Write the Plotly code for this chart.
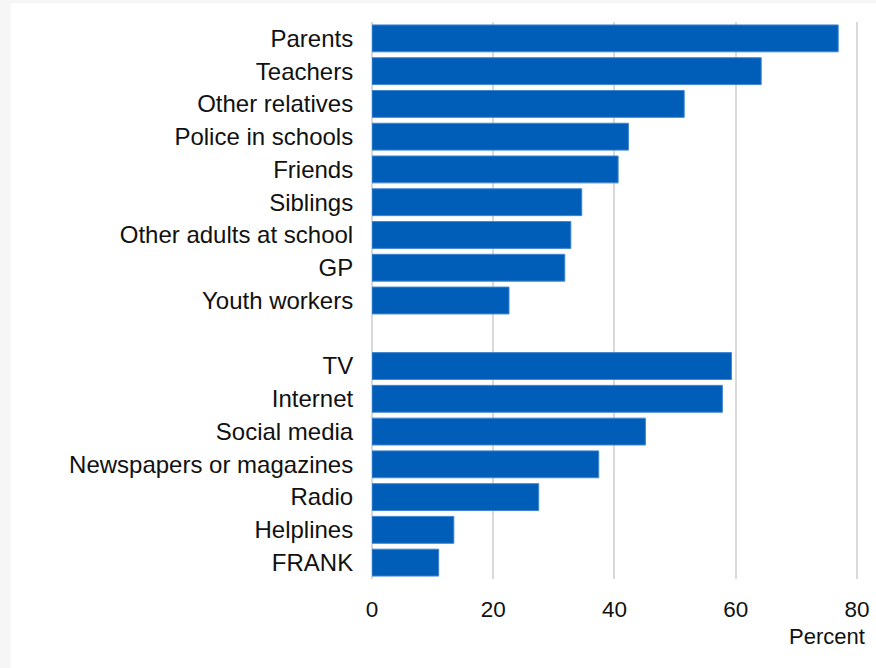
import plotly.graph_objects as go

# fuentes de información (arriba personas, abajo medios)
people = ['Parents', 'Teachers', 'Other relatives', 'Police in schools', 'Friends',
          'Siblings', 'Other adults at school', 'GP', 'Youth workers']
people_pct = [76.9, 64.2, 51.5, 42.3, 40.6, 34.6, 32.8, 31.8, 22.6]

media = ['TV', 'Internet', 'Social media', 'Newspapers or magazines', 'Radio',
         'Helplines', 'FRANK']
media_pct = [59.3, 57.8, 45.1, 37.4, 27.5, 13.5, 11.0]

x_ticks = [0, 20, 40, 60, 80]

# hueco vacío entre los dos grupos
cats = people + [' '] + media
vals = people_pct + [None] + media_pct

FONT = 'Liberation Sans, Arial, sans-serif'

fig = go.Figure()
fig.add_trace(go.Bar(
    y=cats, x=vals, orientation='h',
    marker=dict(color='#005EB8', line=dict(color='#3f86d2', width=1)),
    hoverinfo='x+y'
))

fig.update_layout(
    width=876, height=668,
    margin=dict(l=372, r=16, t=22, b=89),
    paper_bgcolor='#f6f6f6',
    plot_bgcolor='white',
    bargap=0.18,
    showlegend=False,
    font=dict(family=FONT, size=22.5, color='#111111'),
    shapes=[dict(type='rect', xref='paper', yref='paper',
                 x0=-0.74, x1=1.05, y0=-0.17, y1=1.033,
                 fillcolor='white', line=dict(width=0), layer='below')],
    annotations=[dict(text='Percent', xref='paper', yref='paper',
                      x=1.014, y=-0.104, xanchor='right', yanchor='middle',
                      showarrow=False, font=dict(family=FONT, size=22, color='#111111'))]
)

fig.update_xaxes(
    range=[0, 80.5], tickvals=x_ticks, showgrid=True, gridcolor='#d9d9d9', gridwidth=2,
    zeroline=True, zerolinecolor='#d9d9d9', zerolinewidth=2, automargin=False,
    ticks='outside', ticklen=0, ticklabelstandoff=10, fixedrange=True
)
fig.update_yaxes(
    autorange='reversed', showgrid=False, ticks='outside', ticklen=0, automargin=False,
    ticklabelstandoff=13, tickfont=dict(size=24), fixedrange=True
)

# quitar el margen por defecto del body y las barras de scroll
fig.write_html('out.html', config={'displayModeBar': False},
               post_script="document.body.style.margin='0px';"
                           "document.body.style.overflow='hidden';")
